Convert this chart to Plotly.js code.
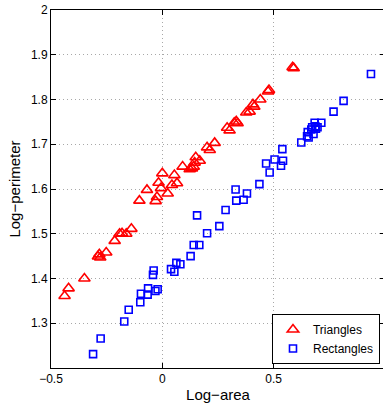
<!DOCTYPE html>
<html>
<head>
<meta charset="utf-8">
<script src="https://cdn.plot.ly/plotly-3.0.1.min.js"></script>
<style>
html,body{margin:0;padding:0;overflow:hidden;background:#fff;}
#chart{width:390px;height:405px;}
</style>
</head>
<body>
<div id="chart"></div>
<script>
// Triangles: log-area, log-perimeter
var triX = [-0.439,-0.421,-0.350,-0.289,-0.283,-0.279,-0.252,-0.214,-0.192,-0.181,-0.162,-0.139,
  -0.103,-0.069,-0.030,-0.024,-0.017,-0.006,0.000,0.024,0.043,0.054,0.066,0.091,0.123,0.133,0.141,
  0.145,0.150,0.168,0.201,0.213,0.235,0.291,0.302,0.323,0.332,0.338,0.377,0.392,0.407,0.413,0.440,
  0.475,0.479,0.585,0.590];
var triY = [1.361,1.378,1.400,1.449,1.454,1.447,1.458,1.484,1.500,1.501,1.500,1.511,
  1.574,1.598,1.573,1.582,1.614,1.602,1.635,1.590,1.609,1.631,1.613,1.650,1.644,1.646,1.650,
  1.659,1.671,1.663,1.693,1.687,1.703,1.737,1.731,1.748,1.751,1.747,1.771,1.773,1.789,1.784,1.800,
  1.818,1.821,1.872,1.870];
// Rectangles
var recX = [-0.311,-0.277,-0.171,-0.151,-0.099,-0.096,-0.066,-0.064,-0.042,-0.039,-0.031,-0.021,
  0.039,0.054,0.063,0.081,0.127,0.141,0.166,0.156,0.201,0.256,0.284,0.329,0.332,0.365,0.380,0.436,
  0.466,0.482,0.504,0.533,0.542,0.539,0.624,0.650,0.653,0.657,0.669,0.673,0.679,0.684,0.687,0.690,
  0.697,0.714,0.769,0.814,0.937];
var recY = [1.231,1.266,1.304,1.330,1.347,1.366,1.364,1.378,1.408,1.418,1.372,1.376,
  1.421,1.415,1.435,1.432,1.450,1.475,1.475,1.541,1.501,1.517,1.553,1.599,1.574,1.576,1.590,1.611,
  1.657,1.637,1.666,1.652,1.663,1.689,1.704,1.718,1.727,1.715,1.733,1.738,1.723,1.748,1.740,1.735,
  1.738,1.748,1.773,1.797,1.857];
var xTickVals = [-0.5, 0, 0.5, 1];
var xTickText = ['\u22120.5', '0', '0.5', ''];
var yTickVals = [1.3, 1.4, 1.5, 1.6, 1.7, 1.8, 1.9, 2];
var yTickText = ['1.3', '1.4', '1.5', '1.6', '1.7', '1.8', '1.9', '2'];

var font = {family: 'Liberation Sans, Arial, sans-serif', color: '#000'};

var traces = [
  {x: triX, y: triY, type: 'scatter', mode: 'markers', name: 'Triangles',
   marker: {symbol: 'triangle-up-open', size: 10, color: '#ff0000', line: {width: 1.6, color: '#ff0000'}}},
  {x: recX, y: recY, type: 'scatter', mode: 'markers', name: 'Rectangles',
   marker: {symbol: 'square-open', size: 7, color: '#0000ff', line: {width: 1.6, color: '#0000ff'}}}
];

var axisCommon = {
  showline: true, linecolor: '#000', linewidth: 1, mirror: 'ticks',
  ticks: 'inside', ticklen: 5, tickcolor: '#000', tickwidth: 1,
  showgrid: true, gridcolor: '#a8a8a8', gridwidth: 1, griddash: '1px,3px',
  zeroline: false, tickfont: {family: font.family, size: 12, color: '#000'}
};

var layout = {
  width: 390, height: 405,
  margin: {l: 51, r: 5, t: 10, b: 37},
  paper_bgcolor: '#fff', plot_bgcolor: '#fff',
  font: font,
  showlegend: true,
  xaxis: Object.assign({}, axisCommon, {
    range: [-0.5, 1], tickvals: xTickVals, ticktext: xTickText,
    title: {text: 'Log\u2212area', font: {family: font.family, size: 15, color: '#000'}, standoff: 4}
  }),
  yaxis: Object.assign({}, axisCommon, {
    range: [1.2, 2], tickvals: yTickVals, ticktext: yTickText,
    title: {text: 'Log\u2212perimeter', font: {family: font.family, size: 15, color: '#000'}, standoff: 6}
  }),
  legend: {
    x: 0.985, y: 0.011, xanchor: 'right', yanchor: 'bottom',
    bgcolor: '#fff', bordercolor: '#000', borderwidth: 1,
    font: {family: font.family, size: 12, color: '#000'},
    itemwidth: 30, tracegroupgap: 0
  }
};

Plotly.newPlot('chart', traces, layout, {displayModeBar: false, staticPlot: true});
</script>
</body>
</html>
